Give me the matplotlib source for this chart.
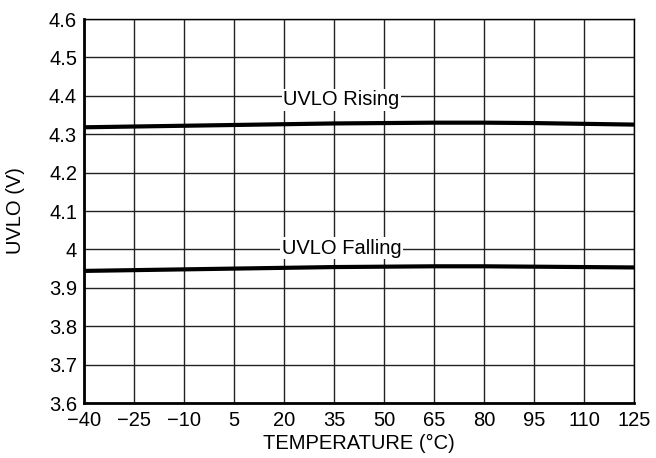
import matplotlib
matplotlib.use("Agg")
import matplotlib.pyplot as plt

plt.rcParams['font.family'] = ['Liberation Sans', 'DejaVu Sans']

temps = [-40, -25, -10, 5, 20, 35, 50, 65, 80, 95, 110, 125]
uvlo_rising = [4.318, 4.320, 4.322, 4.324, 4.326, 4.328, 4.329, 4.330, 4.330, 4.329, 4.327, 4.325]
uvlo_falling = [3.944, 3.946, 3.948, 3.950, 3.952, 3.954, 3.955, 3.956, 3.956, 3.955, 3.954, 3.953]
yticks = [3.6, 3.7, 3.8, 3.9, 4.0, 4.1, 4.2, 4.3, 4.4, 4.5, 4.6]
ytick_labels = ["3.6", "3.7", "3.8", "3.9", "4", "4.1", "4.2", "4.3", "4.4", "4.5", "4.6"]

fig = plt.figure(figsize=(6.56, 4.58), dpi=100)
ax = fig.add_axes([84/656, 1 - 403/458, 550/656, 384/458])

ax.plot(temps, uvlo_rising, color='black', lw=3, zorder=3, solid_capstyle='butt')
ax.plot(temps, uvlo_falling, color='black', lw=3, zorder=3, solid_capstyle='butt')

ax.set_xlim(-40, 125)
ax.set_ylim(3.6, 4.6)
ax.set_xticks(temps)
ax.set_xticklabels([f"{t}".replace("-", "\u2212") for t in temps])
ax.set_yticks(yticks)
ax.set_yticklabels(ytick_labels)
ax.grid(True, color='#222222', lw=1)
ax.set_axisbelow(True)
ax.tick_params(length=0, labelsize=14.5)
ax.tick_params(axis='x', pad=6)
ax.tick_params(axis='y', pad=5)
for s in ['top', 'right']:
    ax.spines[s].set_linewidth(1)
for s in ['left', 'bottom']:
    ax.spines[s].set_linewidth(2)

bbox = dict(facecolor='white', edgecolor='none', pad=1)
ax.text(37.2, 4.39, "UVLO Rising", ha='center', va='center', fontsize=14.5, bbox=bbox, zorder=4)
ax.text(37.2, 4.003, "UVLO Falling", ha='center', va='center', fontsize=14.5, bbox=bbox, zorder=4)

ax.set_xlabel("TEMPERATURE (°C)", fontsize=14.5, labelpad=2.5)
ax.set_ylabel("UVLO (V)", fontsize=14.5, labelpad=17)

fig.savefig("out.png", dpi=100)
